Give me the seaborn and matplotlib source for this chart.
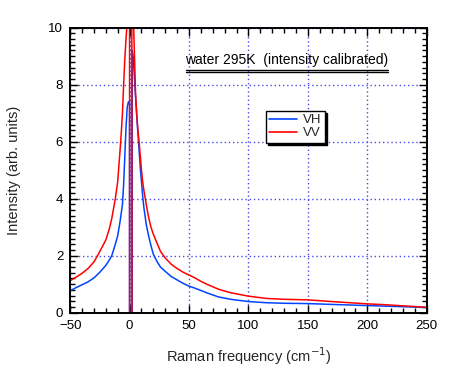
import numpy as np
import pandas as pd
import matplotlib
matplotlib.use("Agg")
import matplotlib.pyplot as plt
from matplotlib.ticker import MultipleLocator
import seaborn as sns

# ---- data ----
vh_x = [-50, -45, -40, -35, -30, -25, -20, -17, -15, -12, -10, -8, -6, -5, -4, -3, -2, -1, 0, 0,
        2.2, 2.2, 3, 4, 5, 6, 7, 8, 9, 10, 11, 12, 14, 16, 18, 20, 23, 26, 30, 35, 40, 45, 50,
        55, 60, 66, 75, 85, 100, 115, 130, 150, 170, 185, 200, 215, 230, 250]
vh_y = [0.77, 0.88, 0.98, 1.08, 1.22, 1.42, 1.66, 1.85, 2.0, 2.4, 2.7, 3.2, 3.8, 4.5, 5.5, 6.5, 7.2, 7.4, 7.4, 0,
        0, 9.2, 9.0, 8.3, 7.6, 6.9, 6.3, 5.7, 5.1, 4.6, 4.1, 3.7, 3.1, 2.7, 2.35, 2.05, 1.8, 1.6, 1.45, 1.27, 1.15, 1.03, 0.93,
        0.86, 0.78, 0.68, 0.55, 0.47, 0.39, 0.35, 0.33, 0.32, 0.29, 0.27, 0.25, 0.23, 0.21, 0.18]

vv_x = [-50, -45, -40, -35, -30, -27, -25, -20, -17, -15, -12, -10, -8, -7, -6, -5, -4, -3, -2, -1, 0, 0,
        1.9, 1.9, 3, 4, 5, 6, 7, 8, 9, 10, 11, 12, 14, 16, 18, 20, 23, 26, 30, 35, 40, 45, 50,
        55, 60, 66, 75, 85, 100, 115, 130, 150, 170, 185, 200, 215, 230, 250]
vv_y = [1.12, 1.25, 1.38, 1.55, 1.78, 2.0, 2.15, 2.55, 2.95, 3.3, 4.0, 4.6, 5.7, 6.3, 7.0, 8.0, 8.9, 9.6, 10.2, 11.0, 12.0, 0,
        0, 12.0, 10.6, 9.2, 7.7, 7.0, 6.4, 6.0, 5.5, 5.0, 4.6, 4.3, 3.8, 3.35, 3.0, 2.75, 2.45, 2.15, 1.92, 1.7, 1.55, 1.42, 1.32,
        1.22, 1.1, 0.98, 0.82, 0.7, 0.58, 0.5, 0.47, 0.45, 0.39, 0.35, 0.31, 0.28, 0.24, 0.19]

series_names = ["VH", "VV"]
series_colors = ["#0044ff", "#ff0000"]
x_ticks = [-50, 0, 50, 100, 150, 200, 250]
y_ticks = [0, 2, 4, 6, 8, 10]
title_text = "water 295K  (intensity calibrated)"

df = pd.concat([
    pd.DataFrame({"freq": vh_x, "I": vh_y, "pol": "VH"}),
    pd.DataFrame({"freq": vv_x, "I": vv_y, "pol": "VV"}),
], ignore_index=True)

sns.set_style("white")
plt.rcParams['font.family'] = ['Liberation Sans', 'DejaVu Sans']

fig = plt.figure(figsize=(4.54, 3.69), dpi=100)
ax = fig.add_axes([0.1545, 0.1526, 0.7855, 0.7724])

sns.lineplot(data=df, x="freq", y="I", hue="pol", hue_order=series_names,
             palette=dict(zip(series_names, series_colors)), sort=False,
             estimator=None, units="pol", linewidth=1.1, ax=ax, legend=False)

ax.set_xlim(-50, 250)
ax.set_ylim(0, 10)
ax.set_xticks(x_ticks)
ax.set_yticks(y_ticks)
ax.xaxis.set_minor_locator(MultipleLocator(10))
ax.yaxis.set_minor_locator(MultipleLocator(0.2))
ax.tick_params(which='both', direction='in', top=True, right=True, bottom=True, left=True,
               colors='black', labelsize=9.5, width=1)
ax.tick_params(which='major', length=5.5, pad=5)
ax.tick_params(which='minor', length=3.5)
ax.grid(True, which='major', color='#4a4ae6', linestyle=(0, (1, 2)), linewidth=1)
for s in ax.spines.values():
    s.set_color('black')
    s.set_linewidth(1.4)

ax.set_xlabel("Raman frequency (cm$^{-1}$)", fontsize=10.5, labelpad=10)
ax.set_ylabel("Intensity (arb. units)", fontsize=10.5, labelpad=20)

# title with double underline
ax.text(0.607, 0.871, title_text, transform=ax.transAxes, ha='center', va='baseline',
        fontsize=10, color='black')
ax.plot([0.324, 0.891], [0.852, 0.852], transform=ax.transAxes, color='black', lw=1, clip_on=False)
ax.plot([0.324, 0.891], [0.8435, 0.8435], transform=ax.transAxes, color='black', lw=1, clip_on=False)

handles = [plt.Line2D([], [], color=c, lw=1.2) for c in series_colors]
leg = ax.legend(handles, series_names, loc='upper left', bbox_to_anchor=(0.548, 0.708),
                frameon=True, fancybox=False, shadow={'color': 'black', 'alpha': 1, 'ox': 1.5, 'oy': -1.5},
                fontsize=9.5, handlelength=2.1, handletextpad=0.5, borderpad=0.25,
                labelspacing=0.05, borderaxespad=0)
leg.get_frame().set_edgecolor('black')
leg.get_frame().set_linewidth(1)
leg.get_frame().set_alpha(1)

fig.savefig("out.png", dpi=100)
